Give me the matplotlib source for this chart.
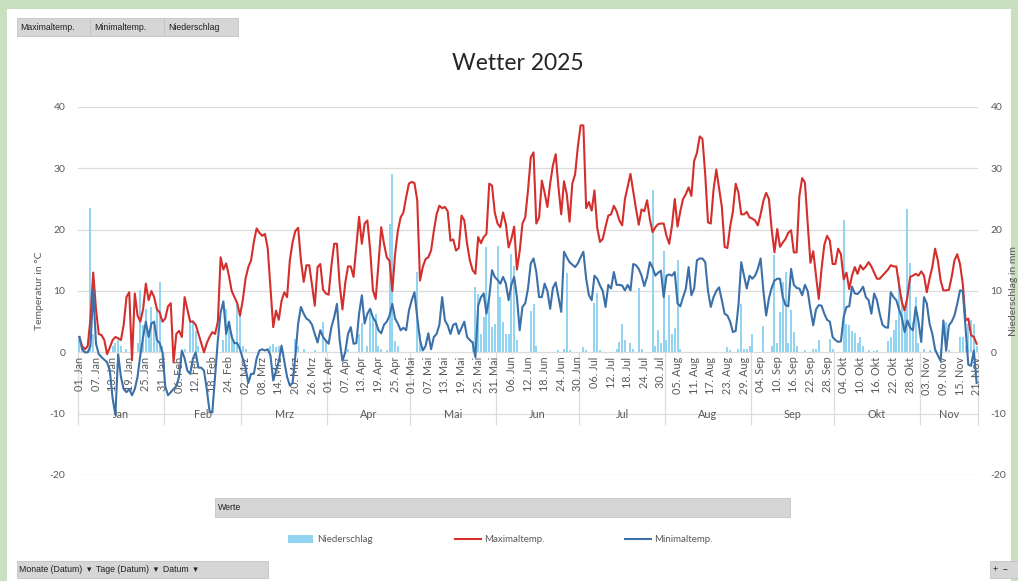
import matplotlib
matplotlib.use("Agg")
import matplotlib.pyplot as plt
import numpy as np
import pandas as pd
from matplotlib.patches import Rectangle
from matplotlib.lines import Line2D

# ---------------- data ----------------
month_names = ["Jan", "Feb", "Mrz", "Apr", "Mai", "Jun", "Jul", "Aug", "Sep", "Okt", "Nov"]
start_date = "2025-01-01"
end_date = "2025-11-21"

tmax_jan = [2.5, 1.0, 0.5, 1.0, 5.5, 13.0, 7.0, 3.0, 2.8, 2.0, -0.3, 0.8, 2.0, 2.5, 2.3, 2.0, 4.5, 9.0, 9.8, -1.3,
            9.6, 6.0, 5.0, 7.0, 11.2, 8.5, 10.0, 9.0, 7.0, 6.5, 5.0]
tmax_feb = [5.5, 7.5, 8.0, -1.6, 3.0, 3.5, 2.5, 9.0, 7.0, 5.0, 5.0, 4.5, 3.0, 1.5, 0.0, 1.5, 2.5, 3.3, 3.0, 5.0,
            15.5, 13.5, 14.5, 12.5, 10.0, 9.0, 8.0, 6.0]
tmax_mar = [8.5, 12.0, 13.9, 15.0, 18.0, 20.2, 19.5, 19.0, 19.3, 17.0, 10.5, 4.1, 6.8, 5.3, 8.4, 9.8, 9.0, 15.0, 18.0,
            19.8, 20.3, 15.0, 11.5, 14.2, 14.2, 11.0, 7.6, 13.9, 14.4, 10.2, 9.6]
tmax_apr = [9.4, 14.1, 17.7, 17.7, 11.0, 7.0, 11.3, 14.0, 14.0, 12.3, 17.2, 22.1, 17.7, 21.0, 21.5, 16.7, 10.1, 8.7,
            14.4, 20.4, 17.7, 15.5, 14.9, 10.0, 16.0, 19.8, 22.0, 22.8, 25.3, 27.5]
tmax_may = [27.8, 27.6, 24.8, 11.7, 13.9, 15.2, 15.5, 16.6, 19.8, 22.5, 23.9, 23.5, 23.7, 23.0, 18.2, 18.4, 16.6, 17.0,
            22.3, 21.5, 17.7, 15.0, 13.4, 12.8, 18.8, 17.8, 18.8, 19.3, 27.5, 27.2, 22.8]
tmax_jun = [21.0, 20.4, 22.8, 20.9, 17.1, 18.5, 20.5, 13.5, 16.5, 21.0, 22.0, 26.4, 31.8, 32.6, 21.0, 22.0, 28.0, 26.0,
            23.7, 27.5, 30.5, 32.3, 26.9, 22.5, 27.9, 25.8, 21.3, 27.5, 29.0, 33.5]
tmax_jul = [37.0, 37.0, 23.5, 24.5, 23.1, 26.4, 20.3, 18.0, 18.5, 20.5, 22.3, 22.5, 23.9, 23.0, 21.5, 20.7, 25.0, 27.0,
            29.1, 26.2, 23.4, 20.8, 23.3, 23.0, 24.8, 21.7, 19.6, 20.4, 20.9, 21.0, 21.0]
tmax_aug = [19.0, 17.7, 20.7, 25.0, 20.5, 23.0, 25.0, 25.8, 26.9, 25.5, 31.2, 32.5, 35.2, 34.8, 29.0, 21.2, 21.0, 26.5,
            29.8, 26.7, 23.7, 17.2, 17.0, 20.5, 23.0, 27.5, 26.0, 22.5, 22.5, 22.9, 22.0]
tmax_sep = [21.8, 21.5, 20.7, 22.5, 24.7, 26.0, 25.0, 20.0, 16.3, 20.1, 17.2, 17.9, 18.5, 19.5, 19.9, 16.3, 16.3, 25.5,
            28.4, 27.7, 21.0, 14.6, 16.5, 12.5, 8.7, 13.6, 17.5, 19.0, 18.2, 14.4]
tmax_oct = [14.4, 16.9, 16.0, 11.9, 13.0, 10.3, 12.5, 13.9, 12.8, 14.2, 13.5, 14.0, 14.7, 14.0, 13.0, 12.0, 12.0, 12.5,
            13.0, 13.5, 14.2, 14.0, 14.0, 11.0, 8.2, 6.8, 9.0, 12.3, 12.5, 12.8, 12.5]
tmax_nov = [13.2, 12.5, 9.8, 12.0, 13.9, 16.9, 15.0, 11.7, 10.1, 10.1, 10.2, 12.3, 15.0, 16.0, 14.4, 11.2, 5.2, 5.5,
            2.8, 2.5, 1.4]

tmin_jan = [2.5, 0.5, 0.0, 0.0, 1.0, 10.2, 1.4, -0.3, -0.8, -1.2, -1.6, -3.0, -7.5, -10.2, -0.3, -4.0, -6.0, -6.5,
            -6.0, -7.0, -6.0, -4.0, -0.5, 2.5, 5.0, 2.5, 4.7, 5.0, 2.0, 1.5, 0.0]
tmin_feb = [-5.5, -7.0, -6.5, -6.0, -5.5, -4.0, 0.3, -1.0, -3.0, -3.5, -1.0, 0.0, -2.5, -2.5, -3.0, -6.0, -9.6, -9.8,
            -4.0, 2.0, 6.5, 8.3, 3.0, 5.0, 2.5, 1.5, 1.5, 0.5]
tmin_mar = [-1.0, -2.5, -5.0, -3.5, -3.5, -1.0, 0.3, 0.5, 0.3, 0.5, -0.5, -4.6, -3.0, -1.5, 1.1, -1.5, -4.0, -5.4,
            -5.0, -0.5, 4.7, 7.4, 6.3, 5.5, 5.2, 4.5, 3.0, 1.6, 3.6, 2.5, 1.9]
tmin_apr = [1.4, 4.1, 5.7, 7.9, 1.9, -1.4, 0.0, 3.0, 4.1, 1.4, 1.5, 6.3, 9.3, 4.7, 6.3, 7.1, 5.7, 5.0, 3.6, 3.1, 4.5,
            5.0, 6.0, 7.9, 5.5, 4.7, 3.6, 4.0, 3.6, 6.8]
tmin_may = [8.5, 9.8, 5.7, 2.0, 0.3, 1.0, 3.1, 0.5, 2.5, 3.0, 4.5, 9.0, 5.2, 4.4, 3.0, 4.5, 4.7, 3.0, 4.0, 5.0, 2.5,
            2.0, 1.6, -0.8, 7.6, 9.0, 9.6, 6.3, 9.0, 13.4, 12.3]
tmin_jun = [11.8, 11.2, 12.3, 11.2, 8.5, 11.0, 12.3, 9.0, 3.6, 7.4, 8.0, 10.4, 14.5, 15.3, 13.1, 9.0, 9.0, 11.2, 10.0,
            7.1, 10.5, 11.4, 9.0, 6.6, 16.4, 15.5, 14.7, 14.3, 13.9, 14.5]
tmin_jul = [15.5, 16.4, 12.0, 9.3, 8.5, 12.5, 12.0, 10.9, 10.0, 7.4, 11.0, 10.4, 13.1, 11.0, 11.0, 10.9, 10.1, 11.0,
            10.1, 14.4, 14.2, 13.6, 12.5, 10.8, 12.3, 14.7, 13.8, 12.5, 13.0, 13.3, 9.0]
tmin_aug = [12.5, 12.7, 12.5, 13.1, 8.0, 7.5, 9.0, 10.4, 13.9, 9.3, 10.4, 15.0, 15.3, 15.3, 14.7, 10.0, 7.4, 9.0, 10.0,
            10.6, 8.5, 6.3, 6.0, 5.0, 3.3, 3.5, 7.7, 14.7, 12.5, 10.4, 12.5]
tmin_sep = [12.0, 12.5, 13.6, 15.3, 10.0, 6.0, 8.8, 10.5, 11.7, 12.0, 12.0, 9.0, 7.7, 7.5, 13.6, 11.0, 10.5, 10.4,
            9.3, 11.0, 10.0, 7.0, 4.4, 7.0, 7.7, 7.6, 6.3, 5.3, 5.0, 2.5]
tmin_oct = [2.0, 1.7, 1.8, 5.8, 7.4, 7.5, 10.7, 9.6, 9.5, 10.0, 10.7, 9.0, 8.5, 6.3, 9.6, 8.5, 6.3, 4.5, 4.1, 4.0, 9.8,
            9.0, 8.5, 7.0, 5.7, 3.3, 5.2, 4.0, 3.6, 7.4, 5.0]
tmin_nov = [1.7, 9.0, 8.0, 4.7, 3.0, 0.5, -0.5, -1.4, 5.2, 0.3, 4.4, 5.0, 6.0, 7.9, 10.1, 10.0, 4.1, -2.0, -2.2, 0.3,
            -5.0]

rain_dates = ["01-01", "01-02", "01-05", "01-06", "01-13", "01-14", "01-15", "01-16", "01-18", "01-22", "01-23",
              "01-24", "01-25", "01-26", "01-27", "01-28", "01-29", "01-30", "01-31",
              "02-08", "02-10", "02-11", "02-12", "02-13", "02-15", "02-22", "02-23", "02-24", "02-25", "02-26",
              "02-27", "02-28",
              "03-01", "03-02", "03-11", "03-12", "03-13", "03-14", "03-20", "03-21", "03-23", "03-27", "03-30",
              "03-31",
              "04-08", "04-12", "04-13", "04-15", "04-16", "04-17", "04-18", "04-19", "04-20", "04-22", "04-23",
              "04-24", "04-25", "04-26",
              "05-03", "05-04", "05-23", "05-24", "05-25", "05-26", "05-27", "05-28", "05-29", "05-30", "05-31",
              "06-01", "06-02", "06-03", "06-04", "06-05", "06-06", "06-07", "06-08", "06-13", "06-14", "06-15",
              "06-23", "06-25", "06-26", "06-27",
              "07-02", "07-03", "07-06", "07-07", "07-08", "07-14", "07-15", "07-16", "07-17", "07-19", "07-20",
              "07-22", "07-23", "07-27", "07-28", "07-29", "07-30", "07-31",
              "08-01", "08-02", "08-03", "08-04", "08-05", "08-06", "08-23", "08-24", "08-27", "08-28", "08-29",
              "08-30", "08-31",
              "09-01", "09-05", "09-08", "09-09", "09-10", "09-11", "09-12", "09-13", "09-14", "09-15", "09-16",
              "09-17", "09-20", "09-23", "09-24", "09-25", "09-29", "09-30",
              "10-04", "10-05", "10-06", "10-07", "10-08", "10-09", "10-10", "10-11", "10-13", "10-15", "10-16",
              "10-20", "10-21", "10-22", "10-23", "10-24", "10-25", "10-26", "10-27", "10-28", "10-29", "10-30",
              "10-31",
              "11-02", "11-04", "11-06", "11-08", "11-10", "11-11", "11-15", "11-16", "11-17", "11-18", "11-19",
              "11-20", "11-21"]
rain_mm = [2.2, 1.0, 23.5, 3.0, 1.0, 1.5, 2.0, 1.0, 0.5, 1.5, 10.2,
           4.5, 7.0, 3.0, 7.4, 5.0, 7.4, 11.5, 1.0,
           0.5, 5.5, 5.2, 3.5, 1.0, 0.5, 2.0, 7.0, 5.0, 3.0, 1.5,
           8.0, 6.5,
           1.0, 0.5, 1.0, 1.3, 0.8, 1.0, 2.2, 1.0, 0.5, 0.3, 4.9,
           2.0,
           0.5, 3.0, 4.8, 1.0, 7.0, 6.0, 6.3, 1.0, 0.5, 0.3, 21.0,
           29.0, 1.9, 1.0,
           13.1, 3.0, 1.9, 10.6, 9.5, 3.0, 5.7, 17.1, 8.5, 4.1, 4.7,
           17.4, 9.0, 5.0, 3.0, 3.0, 16.0, 14.0, 2.0, 6.8, 7.9, 1.0,
           0.3, 0.5, 12.9, 0.3,
           0.8, 0.3, 8.0, 9.6, 0.3, 0.5, 1.7, 4.7, 2.0, 1.5, 0.5,
           10.5, 0.5, 26.4, 1.0, 3.6, 1.5, 16.6,
           2.0, 9.3, 3.0, 4.0, 15.0, 0.5, 0.9, 0.3, 0.5, 7.9, 0.5,
           0.5, 1.0,
           3.0, 4.3, 1.0, 15.8, 1.5, 6.6, 11.4, 13.1, 1.5, 6.9, 3.3,
           1.0, 0.3, 0.5, 0.5, 2.0, 2.2, 0.5,
           21.5, 4.6, 4.4, 3.5, 3.2, 1.5, 2.5, 1.0, 0.3, 0.2, 0.3,
           1.9, 2.5, 3.6, 5.2, 12.3, 9.0, 6.5, 23.4, 14.6, 5.0, 9.0,
           1.5,
           0.5, 0.3, 0.5, 0.5, 5.0, 0.3, 2.5, 2.5, 1.0, 4.6, 5.2,
           4.6, 1.0]

y_ticks = [-20, -10, 0, 10, 20, 30, 40]

# ---------------- derived ----------------
dates = pd.date_range(start_date, end_date, freq="D")
n = len(dates)
tmax = np.array(tmax_jan + tmax_feb + tmax_mar + tmax_apr + tmax_may + tmax_jun + tmax_jul + tmax_aug
                + tmax_sep + tmax_oct + tmax_nov)
tmin = np.array(tmin_jan + tmin_feb + tmin_mar + tmin_apr + tmin_may + tmin_jun + tmin_jul + tmin_aug
                + tmin_sep + tmin_oct + tmin_nov)
rain = pd.Series(0.0, index=dates)
for d_str, v in zip(rain_dates, rain_mm):
    rain[pd.Timestamp("2025-" + d_str)] = v
x = np.arange(n)

# ---------------- figure ----------------
W, H = 1018, 581
plt.rcParams["font.family"] = ["Lato", "DejaVu Sans"]
plt.rcParams["axes.unicode_minus"] = False
fig = plt.figure(figsize=(W / 100, H / 100), dpi=100)
fig.patch.set_facecolor("#c8e0bf")


def fx(px):
    return px / W


def fy(py):
    return 1 - py / H


fig.add_artist(Rectangle((fx(7), 0), fx(1011) - fx(7), fy(9), transform=fig.transFigure,
                         facecolor="white", edgecolor="none", zorder=0))

GRAY = "#595959"
GRID = "#dcdcdc"

ax = fig.add_axes([fx(78), fy(475), fx(978) - fx(78), fy(107) - fy(475)])
ax2 = ax.twinx()
ax.set_zorder(ax2.get_zorder() + 1)
ax.patch.set_visible(False)

for a in (ax, ax2):
    a.set_xlim(-0.5, n - 0.5)
    a.set_ylim(-20, 40)
    for s in a.spines.values():
        s.set_visible(False)

ax2.bar(x, rain.values, width=0.7, color="#93d4f1", zorder=2)
ax2.set_yticks(y_ticks)
ax2.tick_params(axis="y", length=0, pad=9, labelsize=7.5, labelcolor=GRAY)
ax2.set_axisbelow(True)
ax2.yaxis.grid(True, color=GRID, linewidth=0.9)

ax.plot(x, tmax, color="#d42f2c", linewidth=1.5, zorder=3)
ax.plot(x, tmin, color="#3b70a9", linewidth=1.5, zorder=3)
ax.set_yticks(y_ticks)
ax.tick_params(axis="y", length=0, pad=9, labelsize=7.5, labelcolor=GRAY)

# category axis at y = 0
ax.spines["bottom"].set_visible(True)
ax.spines["bottom"].set_position(("data", 0))
ax.spines["bottom"].set_color("none")
tick_idx = np.arange(0, n, 6)
tick_labels = [f"{dates[i].day:02d}. {month_names[dates[i].month - 1]}" for i in tick_idx]
ax.set_xticks(tick_idx)
ax.set_xticklabels(tick_labels, rotation=90, fontsize=7.8, color=GRAY)
ax.tick_params(axis="x", length=0, pad=3)

# month separators and labels
months = dates.month.values
bounds = [-0.5] + [i - 0.5 for i in range(1, n) if months[i] != months[i - 1]] + [n - 0.5]
ax.vlines(bounds, -11.8, 0, colors=GRID, linewidth=0.9, clip_on=False, zorder=1)
for k in range(len(bounds) - 1):
    mid = (bounds[k] + bounds[k + 1]) / 2
    ax.text(mid, -10.1, month_names[k], ha="center", va="center", fontsize=7.8, color=GRAY)

# titles
fig.text(fx(518), fy(64), "Wetter 2025", ha="center", va="center", fontsize=16.5, color="#262626")
fig.text(fx(40), fy(291), "Temperatur in °C", ha="center", va="center", rotation=90, fontsize=7.5, color=GRAY)
fig.text(fx(1013), fy(291), "Niederschlag in mm", ha="center", va="center", rotation=90, fontsize=7.5,
         color=GRAY)


# pivot buttons
def button(x0, y0, x1, y1, text, tx=None, fs=6.3):
    fig.add_artist(Rectangle((fx(x0), fy(y1)), fx(x1) - fx(x0), fy(y0) - fy(y1), transform=fig.transFigure,
                             facecolor="#d6d6d6", edgecolor="#c4c4c4", linewidth=0.6, zorder=5))
    if text:
        fig.text(fx(tx if tx is not None else x0 + 3), fy((y0 + y1) / 2), text, ha="left", va="center",
                 fontsize=fs, color="#1f1f1f", zorder=6, family=["Liberation Sans", "DejaVu Sans"])


button(17, 18, 90, 36, "Maximaltemp.")
button(90, 18, 164, 36, "Minimaltemp.", tx=94)
button(164, 18, 238, 36, "Niederschlag", tx=168)
button(215, 498, 790, 517, "Werte", tx=218)
button(17, 561, 268, 578, "Monate (Datum)  ▾  Tage (Datum)  ▾  Datum  ▾", tx=19)
button(990, 561, 1018, 578, "+  −", tx=993)

# legend
fig.add_artist(Rectangle((fx(288), fy(543)), fx(313) - fx(288), fy(535) - fy(543), transform=fig.transFigure,
                         facecolor="#93d4f1", edgecolor="none"))
fig.text(fx(317), fy(539), "Niederschlag", ha="left", va="center", fontsize=7, color=GRAY)
fig.add_artist(Line2D([fx(455), fx(481)], [fy(539), fy(539)], transform=fig.transFigure, color="#d42f2c",
                      linewidth=1.5))
fig.text(fx(484), fy(539), "Maximaltemp.", ha="left", va="center", fontsize=7, color=GRAY)
fig.add_artist(Line2D([fx(625), fx(651)], [fy(539), fy(539)], transform=fig.transFigure, color="#3b70a9",
                      linewidth=1.5))
fig.text(fx(654), fy(539), "Minimaltemp.", ha="left", va="center", fontsize=7, color=GRAY)

fig.savefig("out.png", dpi=100, facecolor=fig.get_facecolor())
